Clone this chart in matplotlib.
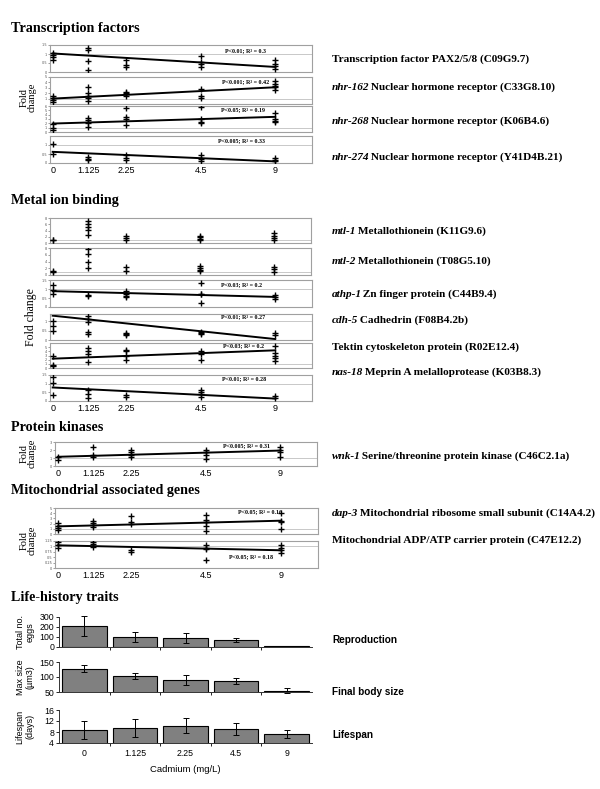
import numpy as np
import matplotlib
matplotlib.use('Agg')
import matplotlib.pyplot as plt
from matplotlib.ticker import NullLocator

# ---- data ----
doses = [0, 1.125, 2.25, 4.5, 9]
dose_labels = ['0', '1.125', '2.25', '4.5', '9']

# fold change readings, one list per dose
pax = [[1.03, 0.94, 0.81, 0.66], [1.35, 1.22, 0.6, 0.09], [0.66, 0.41, 0.28],
       [0.9, 0.56, 0.47, 0.28], [0.66, 0.47, 0.34, 0.19]]
pax_fit = [1.03, 0.28]
nhr162 = [[1.4, 1.06, 0.75, 0.44], [3.1, 2.0, 1.4, 1.06, 0.6], [2.3, 2.0, 1.4],
          [2.75, 1.4, 1.1], [4.2, 3.7, 3.4, 3.1, 2.6]]
nhr162_fit = [1.0, 3.1]
nhr268 = [[1.95, 0.93, 0.55], [3.3, 2.7, 2.1, 1.2], [5.45, 3.5, 2.9, 1.56],
          [5.85, 3.1, 2.3, 2.1], [4.3, 3.1, 2.6, 2.3]]
nhr268_fit = [1.95, 3.5]
nhr274 = [[1.05, 0.49], [0.34, 0.24, 0.15], [0.43, 0.3, 0.19],
          [0.43, 0.24, 0.11], [0.3, 0.19, 0.09]]
nhr274_fit = [0.62, 0.09]

mtl1 = [[1.07, 0.85], [6.9, 6.1, 5.1, 4.05, 2.67], [2.1, 1.6, 1.07],
        [2.35, 1.8, 1.4, 1.07], [3.2, 2.35, 1.6, 0.85]]
mtl2 = [[1.3, 1.0], [7.8, 6.3, 4.0, 2.0], [2.3, 1.3],
        [2.7, 2.0, 1.5, 1.2], [2.3, 1.7, 1.0]]
athp1 = [[1.22, 0.94, 0.75], [0.66, 0.6], [0.88, 0.75, 0.62, 0.53],
         [1.31, 0.75, 0.7, 0.24], [0.66, 0.56, 0.47]]
athp1_fit = [0.88, 0.56]
cdh5 = [[1.0, 0.78, 0.51], [1.27, 1.13, 0.96, 0.45, 0.33], [0.4, 0.31, 0.27],
        [0.45, 0.4, 0.33], [0.36, 0.27]]
cdh5_fit = [1.31, 0.05]
tektin = [[3.0, 0.8, 0.4], [4.8, 4.2, 3.4, 1.44], [4.4, 4.0, 2.8, 2.0],
          [4.0, 3.4, 2.0], [5.4, 3.6, 3.0, 2.4, 1.6]]
tektin_fit = [2.24, 4.24]
nas18 = [[1.4, 1.05, 0.33], [0.62, 0.43, 0.2], [0.37, 0.23],
         [0.62, 0.53, 0.43, 0.23], [0.27, 0.2]]
nas18_fit = [0.78, 0.14]

wnk1 = [[1.07, 0.74], [2.4, 1.36, 1.15], [1.97, 1.77, 1.36, 1.07],
        [1.97, 1.77, 1.36, 0.86], [2.4, 1.97, 1.77, 1.15]]
wnk1_fit = [1.15, 1.93]

dap3 = [[2.1, 1.6, 1.15, 0.83], [2.56, 2.1, 1.67, 1.28], [3.4, 2.4, 2.0],
        [3.6, 2.75, 2.4, 1.47, 0.5], [4.0, 2.56, 2.3, 1.03]]
dap3_fit = [1.47, 2.56]
adp = [[1.2, 1.05, 0.94], [1.2, 1.13, 0.97], [0.82, 0.74],
       [1.05, 0.94, 0.86, 0.39], [1.05, 0.94, 0.82, 0.71]]
adp_fit = [1.05, 0.82]

eggs_mean = [210, 100, 90, 75, 10]
eggs_err = [103, 50, 50, 20, 4]
size_mean = [128, 104, 90, 88, 55]
size_err = [12, 10, 18, 10, 8]
life_mean = [8.8, 9.5, 10.3, 9.2, 7.2]
life_err = [3.2, 3.2, 2.7, 2.2, 1.5]

# ---- figure ----
W, H = 600, 789
fig = plt.figure(figsize=(6, 7.89), dpi=100)
SERIF = 'Liberation Serif'
SANS = 'Liberation Sans'

ov = fig.add_axes([0, 0, 1, 1])
ov.set_xlim(0, W)
ov.set_ylim(H, 0)
ov.axis('off')


def px_axes(l, t, r, b):
    return fig.add_axes([l / W, 1 - b / H, (r - l) / W, (b - t) / H])


# uneven spacing of the dose axis in the original
knot_d = np.array([-9, 0, 1.125, 2.25, 4.5, 9, 18])
knot_f = np.array([-1.28, 0, 0.16, 0.33, 0.665, 1, 1.67])


def fwd(x):
    return np.interp(x, knot_d, knot_f)


def inv(x):
    return np.interp(x, knot_f, knot_d)


def gene_panel(box, pts, ylim, yticks, fit=None, stat=None, sxy=(0.74, 0.85),
               grid=1, show_x=False):
    ax = px_axes(*box)
    ax.set_xscale('function', functions=(fwd, inv))
    ax.axhline(grid, color='#c8c8c8', lw=0.7, zorder=1)
    for d, vals in zip(doses, pts):
        ax.plot([d] * len(vals), vals, '+', color='k', ms=4.2, mew=1.0, zorder=3)
    if fit is not None:
        ax.plot([doses[0], doses[-1]], fit, color='k', lw=1.4, zorder=2)
    ax.set_xlim(inv(-0.012), inv(1.165))
    ax.set_ylim(*ylim)
    ax.set_yticks(yticks)
    ax.set_yticklabels([('%g' % v) for v in yticks])
    ax.tick_params(axis='y', labelsize=2.5, length=1.2, width=0.4, pad=0.8,
                   colors='#555555')
    ax.xaxis.set_minor_locator(NullLocator())
    ax.set_xticks(doses)
    if show_x:
        ax.set_xticklabels(dose_labels, family=SANS, fontsize=6.5)
    else:
        ax.set_xticklabels([])
    ax.tick_params(axis='x', length=0, pad=2.5)
    for s in ax.spines.values():
        s.set_color('#a0a0a0')
        s.set_linewidth(0.8)
    if stat:
        ax.text(sxy[0], sxy[1], stat, transform=ax.transAxes, ha='center',
                va='center', fontsize=4.3, fontweight='bold', family=SERIF)
    return ax


# Transcription factors
gene_panel((50, 45, 312, 72), pax, (0, 1.5), [0, 0.5, 1, 1.5], pax_fit,
           'P<0.01; R² = 0.3', (0.745, 0.81))
gene_panel((50, 77, 312, 104), nhr162, (0, 5), [1, 2, 3, 4, 5], nhr162_fit,
           'P<0.001; R² = 0.42', (0.745, 0.85))
gene_panel((50, 106, 312, 132), nhr268, (0, 6), [0, 1, 2, 3, 4, 5, 6], nhr268_fit,
           'P<0.05; R² = 0.19', (0.735, 0.87))
gene_panel((50, 136, 312, 163), nhr274, (0, 1.5), [0, 0.5, 1], nhr274_fit,
           'P<0.005; R² = 0.33', (0.73, 0.85), show_x=True)

# Metal ion binding
gene_panel((50, 218, 311, 243), mtl1, (0, 8), [0, 2, 4, 6, 8])
gene_panel((50, 248, 311, 275), mtl2, (0, 8), [0, 2, 4, 6, 8])
gene_panel((50, 280, 312, 307), athp1, (0, 1.5), [0, 0.5, 1, 1.5], athp1_fit,
           'P<0.03; R² = 0.2', (0.73, 0.84))
gene_panel((50, 314, 312, 340), cdh5, (0, 1.4), [0, 0.5, 1], cdh5_fit,
           'P<0.01; R² = 0.27', (0.735, 0.9))
gene_panel((50, 343, 312, 368), tektin, (0, 6), [0, 1, 2, 3, 4, 5], tektin_fit,
           'P<0.03; R² = 0.2', (0.74, 0.88))
gene_panel((50, 375, 312, 401), nas18, (0, 1.5), [0, 0.5, 1, 1.5], nas18_fit,
           'P<0.01; R² = 0.28', (0.74, 0.88), show_x=True)

# Protein kinases
gene_panel((55, 442, 317, 466), wnk1, (0, 3), [0, 1, 2, 3], wnk1_fit,
           'P<0.005; R² = 0.31', (0.73, 0.85), show_x=True)

# Mitochondrial
gene_panel((55, 508, 318, 534), dap3, (0, 5), [0, 1, 2, 3, 4, 5], dap3_fit,
           'P<0.05; R² = 0.16', (0.78, 0.86))
gene_panel((55, 541, 318, 568), adp, (0, 1.25), [0, 0.25, 0.5, 0.75, 1, 1.25],
           adp_fit, 'P<0.05; R² = 0.18', (0.745, 0.44), show_x=True)

# section titles
for txt, y in [('Transcription factors', 28), ('Metal ion binding', 200),
               ('Protein kinases', 427), ('Mitochondrial associated genes', 490),
               ('Life-history traits', 597)]:
    ov.text(11, y, txt, family=SERIF, fontweight='bold', fontsize=10.2,
            ha='left', va='center')

# Fold change labels
ov.text(28, 97, 'Fold\nchange', family=SERIF, fontsize=7.5, rotation=90,
        ha='center', va='center', linespacing=0.85)
ov.text(31, 317, 'Fold change', family=SERIF, fontsize=8.5, rotation=90,
        ha='center', va='center')
ov.text(28, 453, 'Fold\nchange', family=SERIF, fontsize=7.5, rotation=90,
        ha='center', va='center', linespacing=0.85)
ov.text(28, 540, 'Fold\nchange', family=SERIF, fontsize=7.5, rotation=90,
        ha='center', va='center', linespacing=0.85)

# gene names on the right
gene_names = [('', 'Transcription factor PAX2/5/8 (C09G9.7)', 59),
              ('nhr-162', ' Nuclear hormone receptor (C33G8.10)', 87),
              ('nhr-268', ' Nuclear hormone receptor (K06B4.6)', 121),
              ('nhr-274', ' Nuclear hormone receptor (Y41D4B.21)', 157),
              ('mtl-1', ' Metallothionein (K11G9.6)', 231),
              ('mtl-2', ' Metallothionein (T08G5.10)', 262),
              ('athp-1', ' Zn finger protein (C44B9.4)', 294),
              ('cdh-5', ' Cadhedrin (F08B4.2b)', 320),
              ('', 'Tektin cytoskeleton protein (R02E12.4)', 347),
              ('nas-18', ' Meprin A melalloprotease (K03B8.3)', 372),
              ('wnk-1', ' Serine/threonine protein kinase (C46C2.1a)', 456),
              ('dap-3', ' Mitochondrial ribosome small subunit (C14A4.2)', 513),
              ('', 'Mitochondrial ADP/ATP carrier protein (C47E12.2)', 540)]
for it, rest, y in gene_names:
    if it:
        t1 = ov.text(332, y, it, family=SERIF, fontweight='bold', style='italic',
                     fontsize=8.1, ha='left', va='center')
        ov.annotate(rest, xy=(1, 0), xycoords=t1, xytext=(-1.2, 0),
                    textcoords='offset points', family=SERIF, fontweight='bold',
                    fontsize=8.1, ha='left', va='bottom')
    else:
        ov.text(332, y, rest, family=SERIF, fontweight='bold', fontsize=8.1,
                ha='left', va='center')

# life-history bars
bar_specs = [((59, 617, 312, 647), eggs_mean, eggs_err, (0, 300), [0, 100, 200, 300],
              'Total no.\neggs', 'Reproduction', 640),
             ((59, 662, 312, 692), size_mean, size_err, (50, 150), [50, 100, 150],
              'Max size\n(µm3)', 'Final body size', 692),
             ((59, 710, 312, 743), life_mean, life_err, (4, 16), [4, 8, 12, 16],
              'Lifespan\n(days)', 'Lifespan', 735)]
cat = np.arange(len(doses))
for i, (box, m, e, yl, yt, ylab, rlab, ry) in enumerate(bar_specs):
    ax = px_axes(*box)
    ax.bar(cat, m, width=0.88, color='#808080', edgecolor='k', linewidth=0.8)
    ax.errorbar(cat, m, yerr=e, fmt='none', ecolor='k', elinewidth=0.7,
                capsize=2.2, capthick=0.7, clip_on=False)
    ax.set_xlim(-0.5, 4.5)
    ax.set_ylim(*yl)
    ax.set_yticks(yt)
    ax.spines['top'].set_visible(False)
    ax.spines['right'].set_visible(False)
    for s in ('left', 'bottom'):
        ax.spines[s].set_linewidth(0.7)
        ax.spines[s].set_color('#333333')
    ax.tick_params(axis='y', labelsize=6.3, length=2, width=0.6, pad=1.5)
    ax.set_xticks(cat)
    ax.set_xticks(cat[:-1] + 0.5, minor=True)
    ax.tick_params(axis='x', which='major', length=0, pad=4, labelsize=6.3)
    ax.tick_params(axis='x', which='minor', length=2, width=0.6)
    for lab in ax.get_yticklabels():
        lab.set_family(SANS)
    if i == 2:
        ax.set_xticklabels(dose_labels, family=SANS)
    else:
        ax.set_xticklabels([])
    cy = (box[1] + box[3]) / 2
    ov.text(25, cy, ylab, family=SANS, fontsize=6.5, rotation=90, ha='center',
            va='center', linespacing=1.1)
    ov.text(332, ry, rlab, family=SANS, fontweight='bold', fontsize=7.2,
            ha='left', va='center')

ov.text(185, 770, 'Cadmium (mg/L)', family=SANS, fontsize=6.8, ha='center',
        va='center')

fig.savefig('out.png', dpi=100)
